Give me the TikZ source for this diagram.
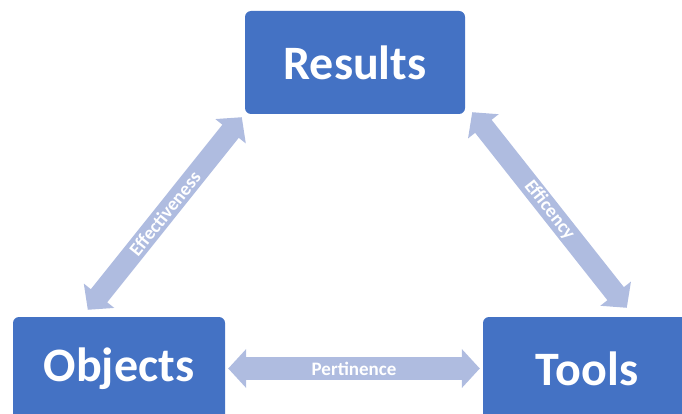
\documentclass[tikz,border=0pt]{standalone}
\usepackage{fontspec}
\setmainfont{Carlito}
\usepackage{tikz}
\usetikzlibrary{arrows.meta,positioning,calc}
\definecolor{boxblue}{HTML}{4472C4}
\definecolor{arrowblue}{HTML}{AFBCE0}

\begin{document}
\begin{tikzpicture}[x=1pt,y=-1pt,
  box/.style={fill=boxblue,rounded corners=6pt,minimum width=212pt,minimum height=103pt,
    text=white,font=\fontsize{48}{57}\selectfont\bfseries},
  link/.style={draw=arrowblue,line width=21pt,
    {Triangle[length=18pt,width=38pt]}-{Triangle[length=18pt,width=38pt]}},
  tag/.style={text=white,font=\fontsize{19}{22}\selectfont\bfseries,sloped}]
  \useasboundingbox (0,0) rectangle (682,414);
  \clip (0,0) rectangle (682,414); %下方两个框被裁掉一部分
  \node[box,minimum width=220pt] (res) at (355,62.5) {Results};
  \node[box] (obj) at (119,368.5) {Objects};
  \node[box,minimum width=208pt] (tool) at (587,368.5) {Tools};
  % 三条双向箭头
  \draw[link] ([shift={(75,-7)}]obj.north west) -- ([shift={(-3,3)}]res.south west)
    node[tag,midway] {Effectiveness};
  \draw[link] ([shift={(7,-2)}]res.south east) -- ([shift={(144,-9)}]tool.north west)
    node[tag,midway] {Efficency};
  \draw[link,line width=23pt] ([xshift=3pt]obj.east) -- ([xshift=-3pt]tool.west)
    node[tag,midway] {Pertinence};
\end{tikzpicture}
\end{document}
